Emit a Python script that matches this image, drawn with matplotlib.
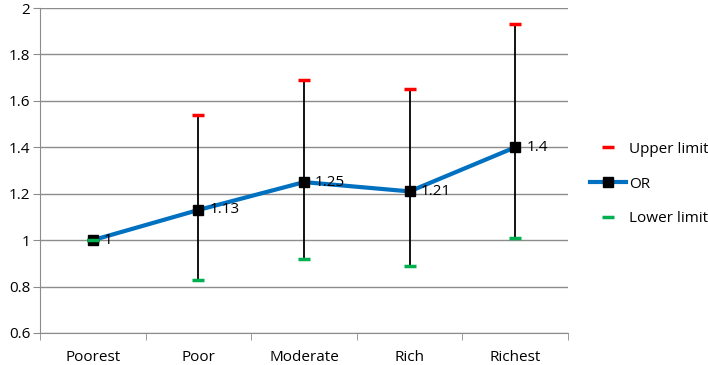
import matplotlib.pyplot as plt
from matplotlib.lines import Line2D

plt.rcParams['font.family'] = ['Open Sans', 'DejaVu Sans']

categories = ["Poorest", "Poor", "Moderate", "Rich", "Richest"]
odds_ratio = [1.0, 1.13, 1.25, 1.21, 1.4]
upper_limit = [1.0, 1.54, 1.69, 1.65, 1.93]
lower_limit = [1.0, 0.83, 0.92, 0.89, 1.01]
labels = ["1", "1.13", "1.25", "1.21", "1.4"]

blue = "#0070C0"
red = "#FF0000"
green = "#00B050"
grid_c = "#8C8C8C"
fs = 11

fig = plt.figure(figsize=(7.08, 3.65), dpi=100)
ax = fig.add_axes([40 / 708, 32 / 365, 528 / 708, 325 / 365])

x = list(range(len(categories)))

# high-low lines
ax.vlines(x, lower_limit, upper_limit, color="black", lw=1.3, zorder=2)
ax.plot(x, upper_limit, ls="none", marker="_", ms=8, mew=2.5, color=red, zorder=3)
ax.plot(x, lower_limit, ls="none", marker="_", ms=8, mew=2.5, color=green, zorder=4)
ax.plot(x, odds_ratio, color=blue, lw=3, marker="s", ms=7.5, mfc="black", mec="black", zorder=5)
# poorest point shows the green dash on top
ax.plot(x[:1], lower_limit[:1], ls="none", marker="_", ms=8, mew=2.5, color=green, zorder=6)

for xi, yi, t in zip(x, odds_ratio, labels):
    ax.annotate(t, (xi, yi), xytext=(8, 0), textcoords="offset points",
                va="center", ha="left", fontsize=fs, color="black", zorder=7)

ax.set_xlim(-0.5, len(categories) - 0.5)
ax.set_ylim(0.6, 2.0)
ax.set_yticks([0.6, 0.8, 1.0, 1.2, 1.4, 1.6, 1.8, 2.0])
ax.set_yticklabels(["0.6", "0.8", "1", "1.2", "1.4", "1.6", "1.8", "2"])
ax.set_xticks(x)
ax.set_xticklabels(categories)
ax.set_xticks([i - 0.5 for i in range(len(categories) + 1)], minor=True)
ax.tick_params(axis="x", which="major", length=0, pad=12, labelsize=fs)
ax.tick_params(axis="x", which="minor", length=5, color=grid_c)
ax.tick_params(axis="y", length=5, color=grid_c, labelsize=fs, pad=2)

ax.grid(axis="y", color=grid_c, lw=1)
ax.set_axisbelow(True)
for s in ["top", "right"]:
    ax.spines[s].set_visible(False)
for s in ["left", "bottom"]:
    ax.spines[s].set_color(grid_c)

handles = [
    Line2D([], [], ls="none", marker="_", ms=8, mew=2.5, color=red),
    Line2D([], [], color=blue, lw=3, marker="s", ms=7.5, mfc="black", mec="black"),
    Line2D([], [], ls="none", marker="_", ms=8, mew=2.5, color=green),
]
fig.legend(handles, ["Upper limit", "OR", "Lower limit"], loc="center left",
           bbox_to_anchor=(576 / 708, 181 / 365), frameon=False, fontsize=fs,
           handlelength=2.4, handletextpad=0.2, labelspacing=1.3)

fig.savefig("out.png", dpi=100)
